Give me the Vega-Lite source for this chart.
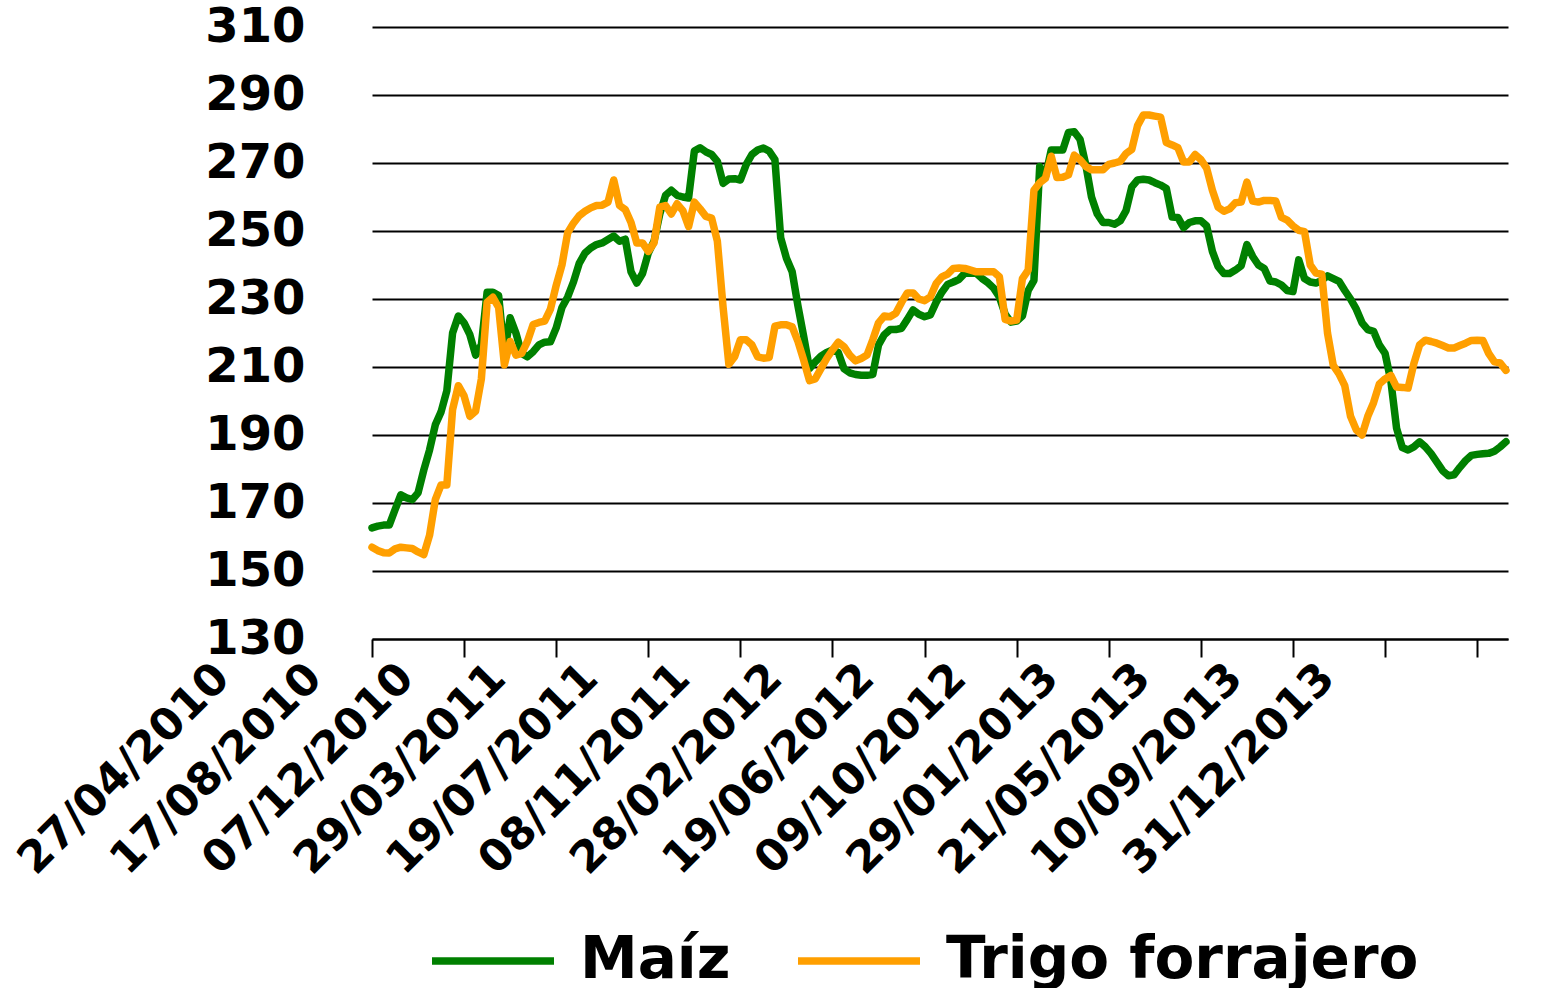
{
  "$schema": "https://vega.github.io/schema/vega-lite/v6.json",
  "width": 1136,
  "height": 612,
  "autosize": {"type": "none"},
  "padding": {"left": 372, "top": 27, "right": 54, "bottom": 349},
  "background": "white",
  "config": {"view": {"stroke": null}, "font": "DejaVu Sans"},
  "data": {"values": [
    {"fecha": "2010-04-27", "Maíz": 162.7, "Trigo forrajero": 157},
    {"fecha": "2010-05-04", "Maíz": 163.2, "Trigo forrajero": 156},
    {"fecha": "2010-05-11", "Maíz": 163.5, "Trigo forrajero": 155.4},
    {"fecha": "2010-05-18", "Maíz": 163.5, "Trigo forrajero": 155.3},
    {"fecha": "2010-05-25", "Maíz": 168, "Trigo forrajero": 156.5},
    {"fecha": "2010-06-01", "Maíz": 172.4, "Trigo forrajero": 157},
    {"fecha": "2010-06-08", "Maíz": 171.5, "Trigo forrajero": 156.8},
    {"fecha": "2010-06-15", "Maíz": 171, "Trigo forrajero": 156.6},
    {"fecha": "2010-06-22", "Maíz": 173, "Trigo forrajero": 155.6},
    {"fecha": "2010-06-29", "Maíz": 179.7, "Trigo forrajero": 154.8},
    {"fecha": "2010-07-06", "Maíz": 185.6, "Trigo forrajero": 160.5},
    {"fecha": "2010-07-13", "Maíz": 193, "Trigo forrajero": 171},
    {"fecha": "2010-07-20", "Maíz": 196.8, "Trigo forrajero": 175.3},
    {"fecha": "2010-07-27", "Maíz": 203, "Trigo forrajero": 175.3},
    {"fecha": "2010-08-03", "Maíz": 220, "Trigo forrajero": 197.5},
    {"fecha": "2010-08-10", "Maíz": 225, "Trigo forrajero": 204.5},
    {"fecha": "2010-08-17", "Maíz": 223, "Trigo forrajero": 201.5},
    {"fecha": "2010-08-24", "Maíz": 219.5, "Trigo forrajero": 195.5},
    {"fecha": "2010-08-31", "Maíz": 213.5, "Trigo forrajero": 197},
    {"fecha": "2010-09-07", "Maíz": 216.5, "Trigo forrajero": 206.5},
    {"fecha": "2010-09-14", "Maíz": 232, "Trigo forrajero": 229},
    {"fecha": "2010-09-21", "Maíz": 232, "Trigo forrajero": 230.5},
    {"fecha": "2010-09-28", "Maíz": 231, "Trigo forrajero": 227.5},
    {"fecha": "2010-10-05", "Maíz": 214, "Trigo forrajero": 210.6},
    {"fecha": "2010-10-12", "Maíz": 224.5, "Trigo forrajero": 217.5},
    {"fecha": "2010-10-19", "Maíz": 220, "Trigo forrajero": 213.5},
    {"fecha": "2010-10-26", "Maíz": 214, "Trigo forrajero": 214},
    {"fecha": "2010-11-02", "Maíz": 213, "Trigo forrajero": 217.5},
    {"fecha": "2010-11-09", "Maíz": 214.5, "Trigo forrajero": 222.5},
    {"fecha": "2010-11-16", "Maíz": 216.5, "Trigo forrajero": 223.1},
    {"fecha": "2010-11-23", "Maíz": 217.3, "Trigo forrajero": 223.5},
    {"fecha": "2010-11-30", "Maíz": 217.4, "Trigo forrajero": 227},
    {"fecha": "2010-12-07", "Maíz": 221.5, "Trigo forrajero": 234},
    {"fecha": "2010-12-14", "Maíz": 227.5, "Trigo forrajero": 240},
    {"fecha": "2010-12-21", "Maíz": 230.6, "Trigo forrajero": 249.5},
    {"fecha": "2010-12-28", "Maíz": 235, "Trigo forrajero": 252.3},
    {"fecha": "2011-01-04", "Maíz": 240.5, "Trigo forrajero": 254.5},
    {"fecha": "2011-01-11", "Maíz": 243.5, "Trigo forrajero": 255.8},
    {"fecha": "2011-01-18", "Maíz": 245, "Trigo forrajero": 256.8},
    {"fecha": "2011-01-25", "Maíz": 246, "Trigo forrajero": 257.5},
    {"fecha": "2011-02-01", "Maíz": 246.5, "Trigo forrajero": 257.6},
    {"fecha": "2011-02-08", "Maíz": 247.5, "Trigo forrajero": 258.5},
    {"fecha": "2011-02-15", "Maíz": 248.5, "Trigo forrajero": 265},
    {"fecha": "2011-02-22", "Maíz": 247, "Trigo forrajero": 257.5},
    {"fecha": "2011-03-01", "Maíz": 247.6, "Trigo forrajero": 256.3},
    {"fecha": "2011-03-08", "Maíz": 238, "Trigo forrajero": 252.5},
    {"fecha": "2011-03-15", "Maíz": 234.7, "Trigo forrajero": 246.5},
    {"fecha": "2011-03-22", "Maíz": 237.5, "Trigo forrajero": 246.5},
    {"fecha": "2011-03-29", "Maíz": 243.5, "Trigo forrajero": 244},
    {"fecha": "2011-04-05", "Maíz": 247, "Trigo forrajero": 246.5},
    {"fecha": "2011-04-12", "Maíz": 255, "Trigo forrajero": 257},
    {"fecha": "2011-04-19", "Maíz": 260.5, "Trigo forrajero": 257.5},
    {"fecha": "2011-04-26", "Maíz": 262, "Trigo forrajero": 255},
    {"fecha": "2011-05-03", "Maíz": 260.5, "Trigo forrajero": 258},
    {"fecha": "2011-05-10", "Maíz": 260, "Trigo forrajero": 256},
    {"fecha": "2011-05-17", "Maíz": 259.7, "Trigo forrajero": 251.3},
    {"fecha": "2011-05-24", "Maíz": 273.5, "Trigo forrajero": 258.5},
    {"fecha": "2011-05-31", "Maíz": 274.5, "Trigo forrajero": 256.5},
    {"fecha": "2011-06-07", "Maíz": 273.3, "Trigo forrajero": 254.3},
    {"fecha": "2011-06-14", "Maíz": 272.5, "Trigo forrajero": 253.8},
    {"fecha": "2011-06-21", "Maíz": 270.5, "Trigo forrajero": 247},
    {"fecha": "2011-06-28", "Maíz": 264, "Trigo forrajero": 227.5},
    {"fecha": "2011-07-05", "Maíz": 265.3, "Trigo forrajero": 210.8},
    {"fecha": "2011-07-12", "Maíz": 265.4, "Trigo forrajero": 213},
    {"fecha": "2011-07-19", "Maíz": 265, "Trigo forrajero": 218},
    {"fecha": "2011-07-26", "Maíz": 269.5, "Trigo forrajero": 218},
    {"fecha": "2011-08-02", "Maíz": 272.5, "Trigo forrajero": 216.5},
    {"fecha": "2011-08-09", "Maíz": 273.8, "Trigo forrajero": 213},
    {"fecha": "2011-08-16", "Maíz": 274.4, "Trigo forrajero": 212.6},
    {"fecha": "2011-08-23", "Maíz": 273.5, "Trigo forrajero": 212.8},
    {"fecha": "2011-08-30", "Maíz": 271, "Trigo forrajero": 222},
    {"fecha": "2011-09-06", "Maíz": 248, "Trigo forrajero": 222.4},
    {"fecha": "2011-09-13", "Maíz": 242, "Trigo forrajero": 222.4},
    {"fecha": "2011-09-20", "Maíz": 238, "Trigo forrajero": 221.8},
    {"fecha": "2011-09-27", "Maíz": 228, "Trigo forrajero": 217.5},
    {"fecha": "2011-10-04", "Maíz": 219, "Trigo forrajero": 212},
    {"fecha": "2011-10-11", "Maíz": 209.5, "Trigo forrajero": 206},
    {"fecha": "2011-10-18", "Maíz": 211.5, "Trigo forrajero": 206.5},
    {"fecha": "2011-10-25", "Maíz": 213.2, "Trigo forrajero": 209.5},
    {"fecha": "2011-11-01", "Maíz": 214.3, "Trigo forrajero": 212.5},
    {"fecha": "2011-11-08", "Maíz": 215, "Trigo forrajero": 215},
    {"fecha": "2011-11-15", "Maíz": 214.3, "Trigo forrajero": 217.3},
    {"fecha": "2011-11-22", "Maíz": 209.5, "Trigo forrajero": 216},
    {"fecha": "2011-11-29", "Maíz": 208.3, "Trigo forrajero": 213.5},
    {"fecha": "2011-12-06", "Maíz": 207.8, "Trigo forrajero": 211.8},
    {"fecha": "2011-12-13", "Maíz": 207.6, "Trigo forrajero": 212.5},
    {"fecha": "2011-12-20", "Maíz": 207.6, "Trigo forrajero": 213.5},
    {"fecha": "2011-12-27", "Maíz": 207.8, "Trigo forrajero": 218},
    {"fecha": "2012-01-03", "Maíz": 216.5, "Trigo forrajero": 223},
    {"fecha": "2012-01-10", "Maíz": 219.5, "Trigo forrajero": 225},
    {"fecha": "2012-01-17", "Maíz": 221, "Trigo forrajero": 224.8},
    {"fecha": "2012-01-24", "Maíz": 221, "Trigo forrajero": 225.8},
    {"fecha": "2012-01-31", "Maíz": 221.4, "Trigo forrajero": 229},
    {"fecha": "2012-02-07", "Maíz": 224, "Trigo forrajero": 231.8},
    {"fecha": "2012-02-14", "Maíz": 226.8, "Trigo forrajero": 231.8},
    {"fecha": "2012-02-21", "Maíz": 225.5, "Trigo forrajero": 230},
    {"fecha": "2012-02-28", "Maíz": 224.8, "Trigo forrajero": 229.5},
    {"fecha": "2012-03-06", "Maíz": 225.3, "Trigo forrajero": 230.6},
    {"fecha": "2012-03-13", "Maíz": 229, "Trigo forrajero": 234.5},
    {"fecha": "2012-03-20", "Maíz": 232, "Trigo forrajero": 236.5},
    {"fecha": "2012-03-27", "Maíz": 234.3, "Trigo forrajero": 237.3},
    {"fecha": "2012-04-03", "Maíz": 235, "Trigo forrajero": 239},
    {"fecha": "2012-04-10", "Maíz": 235.8, "Trigo forrajero": 239.1},
    {"fecha": "2012-04-17", "Maíz": 237.6, "Trigo forrajero": 239},
    {"fecha": "2012-04-24", "Maíz": 237.6, "Trigo forrajero": 238.5},
    {"fecha": "2012-05-01", "Maíz": 237.6, "Trigo forrajero": 238},
    {"fecha": "2012-05-08", "Maíz": 236, "Trigo forrajero": 238},
    {"fecha": "2012-05-15", "Maíz": 234.8, "Trigo forrajero": 238},
    {"fecha": "2012-05-22", "Maíz": 233.2, "Trigo forrajero": 238},
    {"fecha": "2012-05-29", "Maíz": 230.6, "Trigo forrajero": 236.5},
    {"fecha": "2012-06-05", "Maíz": 225.5, "Trigo forrajero": 224},
    {"fecha": "2012-06-12", "Maíz": 223.2, "Trigo forrajero": 223.5},
    {"fecha": "2012-06-19", "Maíz": 223.5, "Trigo forrajero": 223.8},
    {"fecha": "2012-06-26", "Maíz": 225, "Trigo forrajero": 236},
    {"fecha": "2012-07-03", "Maíz": 232.5, "Trigo forrajero": 238.5},
    {"fecha": "2012-07-10", "Maíz": 235.5, "Trigo forrajero": 262},
    {"fecha": "2012-07-17", "Maíz": 269, "Trigo forrajero": 264.2},
    {"fecha": "2012-07-24", "Maíz": 266, "Trigo forrajero": 265.5},
    {"fecha": "2012-07-31", "Maíz": 273.8, "Trigo forrajero": 272},
    {"fecha": "2012-08-07", "Maíz": 273.8, "Trigo forrajero": 265.7},
    {"fecha": "2012-08-14", "Maíz": 273.8, "Trigo forrajero": 265.8},
    {"fecha": "2012-08-21", "Maíz": 279, "Trigo forrajero": 266.5},
    {"fecha": "2012-08-28", "Maíz": 279.2, "Trigo forrajero": 272.3},
    {"fecha": "2012-09-04", "Maíz": 277, "Trigo forrajero": 271},
    {"fecha": "2012-09-11", "Maíz": 269.5, "Trigo forrajero": 269},
    {"fecha": "2012-09-18", "Maíz": 260, "Trigo forrajero": 268},
    {"fecha": "2012-09-25", "Maíz": 255, "Trigo forrajero": 268},
    {"fecha": "2012-10-02", "Maíz": 252.5, "Trigo forrajero": 268},
    {"fecha": "2012-10-09", "Maíz": 252.5, "Trigo forrajero": 269.6},
    {"fecha": "2012-10-16", "Maíz": 252, "Trigo forrajero": 270},
    {"fecha": "2012-10-23", "Maíz": 253, "Trigo forrajero": 270.5},
    {"fecha": "2012-10-30", "Maíz": 256, "Trigo forrajero": 272.8},
    {"fecha": "2012-11-06", "Maíz": 263, "Trigo forrajero": 274},
    {"fecha": "2012-11-13", "Maíz": 265, "Trigo forrajero": 281},
    {"fecha": "2012-11-20", "Maíz": 265.2, "Trigo forrajero": 284.1},
    {"fecha": "2012-11-27", "Maíz": 265, "Trigo forrajero": 284.1},
    {"fecha": "2012-12-04", "Maíz": 264.2, "Trigo forrajero": 283.8},
    {"fecha": "2012-12-11", "Maíz": 263.5, "Trigo forrajero": 283.5},
    {"fecha": "2012-12-18", "Maíz": 262.5, "Trigo forrajero": 276},
    {"fecha": "2012-12-25", "Maíz": 254.1, "Trigo forrajero": 275.3},
    {"fecha": "2013-01-01", "Maíz": 254, "Trigo forrajero": 274.5},
    {"fecha": "2013-01-08", "Maíz": 251, "Trigo forrajero": 270.3},
    {"fecha": "2013-01-15", "Maíz": 252.5, "Trigo forrajero": 270.3},
    {"fecha": "2013-01-22", "Maíz": 253, "Trigo forrajero": 272.5},
    {"fecha": "2013-01-29", "Maíz": 253, "Trigo forrajero": 271},
    {"fecha": "2013-02-05", "Maíz": 251.5, "Trigo forrajero": 268.5},
    {"fecha": "2013-02-12", "Maíz": 244, "Trigo forrajero": 262},
    {"fecha": "2013-02-19", "Maíz": 239.5, "Trigo forrajero": 257},
    {"fecha": "2013-02-26", "Maíz": 237.5, "Trigo forrajero": 255.8},
    {"fecha": "2013-03-05", "Maíz": 237.5, "Trigo forrajero": 256.5},
    {"fecha": "2013-03-12", "Maíz": 238.5, "Trigo forrajero": 258.3},
    {"fecha": "2013-03-19", "Maíz": 239.8, "Trigo forrajero": 258.5},
    {"fecha": "2013-03-26", "Maíz": 246, "Trigo forrajero": 264.4},
    {"fecha": "2013-04-02", "Maíz": 242.5, "Trigo forrajero": 258.8},
    {"fecha": "2013-04-09", "Maíz": 240, "Trigo forrajero": 258.5},
    {"fecha": "2013-04-16", "Maíz": 239, "Trigo forrajero": 259},
    {"fecha": "2013-04-23", "Maíz": 235.3, "Trigo forrajero": 259},
    {"fecha": "2013-04-30", "Maíz": 235, "Trigo forrajero": 258.8},
    {"fecha": "2013-05-07", "Maíz": 234.1, "Trigo forrajero": 254},
    {"fecha": "2013-05-14", "Maíz": 232.5, "Trigo forrajero": 253.2},
    {"fecha": "2013-05-21", "Maíz": 232.2, "Trigo forrajero": 251.5},
    {"fecha": "2013-05-28", "Maíz": 241.5, "Trigo forrajero": 250.2},
    {"fecha": "2013-06-04", "Maíz": 236, "Trigo forrajero": 249.8},
    {"fecha": "2013-06-11", "Maíz": 235, "Trigo forrajero": 240},
    {"fecha": "2013-06-18", "Maíz": 234.7, "Trigo forrajero": 237.6},
    {"fecha": "2013-06-25", "Maíz": 235.5, "Trigo forrajero": 237.3},
    {"fecha": "2013-07-02", "Maíz": 236.8, "Trigo forrajero": 220},
    {"fecha": "2013-07-09", "Maíz": 236, "Trigo forrajero": 210.5},
    {"fecha": "2013-07-16", "Maíz": 235.2, "Trigo forrajero": 208},
    {"fecha": "2013-07-23", "Maíz": 232.5, "Trigo forrajero": 204.5},
    {"fecha": "2013-07-30", "Maíz": 230, "Trigo forrajero": 195.5},
    {"fecha": "2013-08-06", "Maíz": 227, "Trigo forrajero": 191.5},
    {"fecha": "2013-08-13", "Maíz": 223, "Trigo forrajero": 190},
    {"fecha": "2013-08-20", "Maíz": 221, "Trigo forrajero": 195.5},
    {"fecha": "2013-08-27", "Maíz": 220.5, "Trigo forrajero": 199.5},
    {"fecha": "2013-09-03", "Maíz": 216.5, "Trigo forrajero": 205},
    {"fecha": "2013-09-10", "Maíz": 214, "Trigo forrajero": 206.5},
    {"fecha": "2013-09-17", "Maíz": 206, "Trigo forrajero": 207.5},
    {"fecha": "2013-09-24", "Maíz": 192, "Trigo forrajero": 204.1},
    {"fecha": "2013-10-01", "Maíz": 186.3, "Trigo forrajero": 204},
    {"fecha": "2013-10-08", "Maíz": 185.6, "Trigo forrajero": 203.8},
    {"fecha": "2013-10-15", "Maíz": 186.5, "Trigo forrajero": 211},
    {"fecha": "2013-10-22", "Maíz": 188, "Trigo forrajero": 216.5},
    {"fecha": "2013-10-29", "Maíz": 186.5, "Trigo forrajero": 217.9},
    {"fecha": "2013-11-05", "Maíz": 184.5, "Trigo forrajero": 217.5},
    {"fecha": "2013-11-12", "Maíz": 182, "Trigo forrajero": 217},
    {"fecha": "2013-11-19", "Maíz": 179.5, "Trigo forrajero": 216.3},
    {"fecha": "2013-11-26", "Maíz": 178, "Trigo forrajero": 215.6},
    {"fecha": "2013-12-03", "Maíz": 178.3, "Trigo forrajero": 215.6},
    {"fecha": "2013-12-10", "Maíz": 180.5, "Trigo forrajero": 216.3},
    {"fecha": "2013-12-17", "Maíz": 182.5, "Trigo forrajero": 217},
    {"fecha": "2013-12-24", "Maíz": 184, "Trigo forrajero": 217.8},
    {"fecha": "2013-12-31", "Maíz": 184.3, "Trigo forrajero": 217.9},
    {"fecha": "2014-01-07", "Maíz": 184.5, "Trigo forrajero": 217.8},
    {"fecha": "2014-01-14", "Maíz": 184.6, "Trigo forrajero": 214},
    {"fecha": "2014-01-21", "Maíz": 185.2, "Trigo forrajero": 211.5},
    {"fecha": "2014-01-28", "Maíz": 186.5, "Trigo forrajero": 211.2},
    {"fecha": "2014-02-04", "Maíz": 188, "Trigo forrajero": 209}
  ]},
  "transform": [{"fold": ["Maíz", "Trigo forrajero"], "as": ["serie", "precio"]}],
  "mark": {"type": "line", "strokeWidth": 7.5, "strokeCap": "round", "strokeJoin": "round"},
  "encoding": {
    "x": {
      "field": "fecha",
      "type": "temporal",
      "scale": {"domain": [{"year": 2010, "month": 4, "date": 27}, {"year": 2014, "month": 2, "date": 6, "hours": 12}]},
      "axis": {
        "title": null,
        "values": [
          {"year": 2010, "month": 4, "date": 27},
          {"year": 2010, "month": 8, "date": 17},
          {"year": 2010, "month": 12, "date": 7},
          {"year": 2011, "month": 3, "date": 29},
          {"year": 2011, "month": 7, "date": 19},
          {"year": 2011, "month": 11, "date": 8},
          {"year": 2012, "month": 2, "date": 28},
          {"year": 2012, "month": 6, "date": 19},
          {"year": 2012, "month": 10, "date": 9},
          {"year": 2013, "month": 1, "date": 29},
          {"year": 2013, "month": 5, "date": 21},
          {"year": 2013, "month": 9, "date": 10},
          {"year": 2013, "month": 12, "date": 31}
        ],
        "format": "%d/%m/%Y",
        "grid": false,
        "domain": true,
        "domainColor": "black",
        "domainWidth": 2,
        "ticks": true,
        "tickColor": "black",
        "tickWidth": 2,
        "tickSize": 18,
        "labelAngle": -45,
        "labelAlign": "right",
        "labelBaseline": "middle",
        "labelOffset": -150,
        "labelPadding": 14,
        "labelFont": "DejaVu Sans",
        "labelFontSize": 44,
        "labelFontWeight": "bold",
        "labelColor": "black",
        "labelLimit": 1000,
        "labelFlush": false,
        "labelOverlap": false,
        "labelBound": false
      }
    },
    "y": {
      "field": "precio",
      "type": "quantitative",
      "scale": {"domain": [130, 310], "zero": false, "nice": false},
      "axis": {
        "title": null,
        "values": [130, 150, 170, 190, 210, 230, 250, 270, 290, 310],
        "grid": true,
        "gridColor": "black",
        "gridWidth": 2,
        "gridOpacity": 1,
        "domain": false,
        "ticks": false,
        "tickSize": 0,
        "labelPadding": 67,
        "labelFont": "DejaVu Sans",
        "labelFontSize": 48,
        "labelFontWeight": "bold",
        "labelColor": "black"
      }
    },
    "color": {
      "field": "serie",
      "type": "nominal",
      "scale": {"domain": ["Maíz", "Trigo forrajero"], "range": ["#008000", "#FF9F00"]},
      "legend": {
        "title": null,
        "orient": "none",
        "legendX": 56,
        "legendY": 869,
        "direction": "horizontal",
        "symbolType": "stroke",
        "symbolSize": 14884,
        "symbolStrokeWidth": 7.5,
        "labelFont": "DejaVu Sans",
        "labelFontSize": 58,
        "labelFontWeight": "bold",
        "labelColor": "black",
        "labelOffset": 22,
        "columnPadding": 52,
        "labelLimit": 2000,
        "padding": 0
      }
    }
  }
}
